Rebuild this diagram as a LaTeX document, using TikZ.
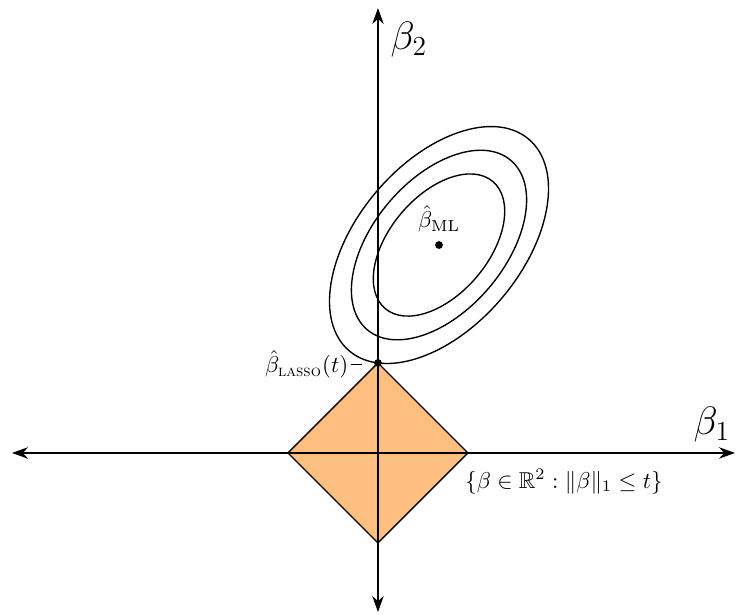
\documentclass[tikz,border=0pt]{standalone}
\usepackage{amsmath,amssymb}
\usetikzlibrary{arrows.meta}
\begin{document}
\begin{tikzpicture}[x=1.38cm,y=1.38cm,
  axis/.style={semithick,{Stealth[length=7pt,width=5pt]}-{Stealth[length=7pt,width=5pt]}},
  contour/.style={semithick},
  dotnode/.style={circle,fill=black,inner sep=0pt,minimum size=3.4pt},
  ball/.style={semithick,fill=orange!50}]
\useasboundingbox (-4.2,-1.8) rectangle (3.978,5.033);
% constraint region
\filldraw[ball] (1,0) -- (0,1) -- (-1,0) -- (0,-1) -- cycle;
% axes
\coordinate (xl) at (-4.067,0);
\coordinate (xr) at (3.967,0);
\coordinate (yb) at (0,-1.767);
\coordinate (yt) at (0,4.944);
\draw[axis] (xl) -- (xr);
\draw[axis] (yb) -- (yt);
\node[font=\LARGE] (b1) at (3.711,0.311) {$\beta_1$};
\node[font=\LARGE] (b2) at (0.344,4.589) {$\beta_2$};
% contours
\coordinate (mlc) at (0.678,2.3105);
\foreach \s in {1,0.8,0.6}
  \draw[contour,rotate around={49.7:(mlc)}] (mlc) ellipse [x radius=1.542*\s, y radius=0.914*\s];
\node[dotnode] (ml) at (mlc) {};
\node (mllbl) at (0.68,2.60) {$\hat{\beta}_{\mathrm{ML}}$};
% lasso point
\node[dotnode] (lasso) at (0,1) {};
\node[anchor=east,inner sep=1pt] (lassolbl) at (-0.30,0.983) {$\hat{\beta}_{\textsc{lasso}}(t)$};
\coordinate (lassopin) at (-0.178,0.98);
\draw[thick] (lassolbl.east) -- (lassolbl.east -| lassopin);
% set label
\node[anchor=west,inner sep=0pt] (setlbl) at (0.965,-0.32) {$\{\beta\in\mathbb{R}^2:\|\beta\|_1\le t\}$};
\end{tikzpicture}
\end{document}
